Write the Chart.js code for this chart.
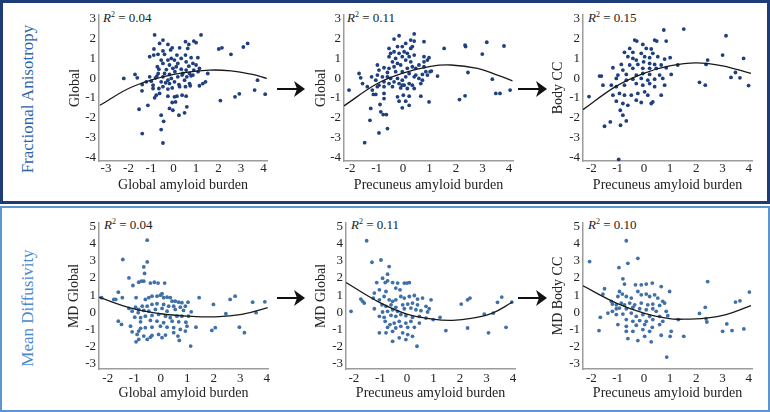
<!DOCTYPE html>
<html><head><meta charset="utf-8">
<script src="https://cdn.jsdelivr.net/npm/chart.js@4.4.1/dist/chart.umd.min.js"></script>
<style>
body{margin:0;background:#fff;width:770px;height:412px;position:relative;overflow:hidden;font-family:"Liberation Serif","Times New Roman",serif}
.box{position:absolute;box-sizing:border-box}
canvas{position:absolute}
.r2{position:absolute;font-size:13px;line-height:16px;color:#222;white-space:nowrap}
.r2 sup{font-size:8px;line-height:0;vertical-align:5px}
.grp{position:absolute;font-size:17px;white-space:nowrap;transform:translate(-50%,-50%) rotate(-90deg)}
svg{position:absolute;left:0;top:0}
</style></head><body>
<div class="box" style="left:0;top:0;width:770px;height:204px;border:3px solid #1d3c78"></div>
<div class="box" style="left:0;top:206px;width:770px;height:206px;border:2px solid #5d95d3"></div>
<div class="grp" style="left:28px;top:99px;color:#2c63ad">Fractional Anisotropy</div>
<div class="grp" style="left:28px;top:308px;color:#4a8bd0">Mean Diffusivity</div>
<svg width="770" height="412">
  <g stroke="#111" stroke-width="2" fill="#111">
    <line x1="277" y1="89" x2="299" y2="89"/><polygon points="294,81 305,89 294,97 297,89" stroke="none"/>
    <line x1="518" y1="89" x2="540" y2="89"/><polygon points="536,81 547,89 536,97 539,89" stroke="none"/>
    <line x1="277" y1="298" x2="299" y2="298"/><polygon points="294,290 305,298 294,306 297,298" stroke="none"/>
    <line x1="518" y1="298" x2="540" y2="298"/><polygon points="536,290 547,298 536,306 539,298" stroke="none"/>
  </g>
</svg>
<div class="r2" style="left:103px;top:10px"><i>R</i><sup>2</sup> = 0.04</div>
<div class="r2" style="left:347px;top:10px"><i>R</i><sup>2</sup> = 0.11</div>
<div class="r2" style="left:588px;top:10px"><i>R</i><sup>2</sup> = 0.15</div>
<div class="r2" style="left:104px;top:217px"><i>R</i><sup>2</sup> = 0.04</div>
<div class="r2" style="left:351px;top:217px"><i>R</i><sup>2</sup> = 0.11</div>
<div class="r2" style="left:588px;top:217px"><i>R</i><sup>2</sup> = 0.10</div>
<script>
// ---- tick values ----
const faYTicks = [3,2,1,0,-1,-2,-3,-4];
const mdYTicks = [5,4,3,2,1,0,-1,-2,-3];
const globalXTicks = [-3,-2,-1,0,1,2,3,4];
const precXTicks = [-2,-1,0,1,2,3,4];
const mdGlobalXTicks = [-2,-1,0,1,2,3,4];

// ---- FA global vs global amyloid ----
const faGlobalPts = [[-0.84,2.19],[1.22,2.19],[-0.47,1.93],[-0.62,1.76],[0.53,1.85],[0.90,1.88],[1.00,1.80],[0.68,1.71],[-0.25,1.71],[-0.87,1.48],[-0.06,1.54],[0.27,1.54],[-0.13,1.43],[0.63,1.51],[-0.47,1.38],[-1.06,1.09],[-0.69,1.21],[-0.40,1.21],[-0.88,1.17],[0.15,1.17],[0.53,1.17],[0.78,1.04],[1.08,1.04],[-0.55,0.92],[-0.25,0.92],[-0.10,1.00],[0.04,0.92],[0.34,1.00],[-0.47,0.75],[-0.18,0.67],[0.19,0.75],[0.56,0.83],[0.86,0.75],[-0.72,0.58],[0.12,0.58],[0.68,0.61],[1.00,0.67],[-0.65,0.46],[-0.32,0.44],[-0.03,0.50],[0.34,0.46],[0.56,0.41],[0.90,0.41],[1.15,0.50],[-0.68,0.24],[-0.40,0.24],[-0.18,0.19],[0.06,0.33],[0.41,0.24],[0.71,0.24],[0.78,0.12],[1.09,0.33],[1.52,0.24],[-2.21,-0.01],[-1.71,0.19],[-1.61,0.02],[-1.06,0.07],[-0.80,0.02],[-0.99,-0.15],[-0.74,0.11],[-0.47,0.07],[-0.25,-0.10],[-0.10,-0.01],[0.19,0.07],[0.38,0.16],[0.59,0.07],[0.86,0.16],[-0.91,-0.35],[-0.55,-0.18],[-0.35,-0.23],[-0.18,-0.27],[0.04,-0.18],[0.24,-0.32],[0.49,-0.10],[0.71,-0.27],[1.15,-0.38],[1.30,-0.27],[1.42,-0.18],[-1.39,-0.32],[-1.21,-0.18],[-0.91,-0.52],[-0.65,-0.52],[-0.47,-0.43],[-0.25,-0.55],[-0.06,-0.49],[0.27,-0.43],[0.53,-0.43],[0.74,-0.38],[-1.40,-0.64],[-0.77,-0.86],[-0.62,-0.77],[-0.25,-0.91],[0.04,-0.94],[0.15,-0.91],[0.38,-0.86],[0.56,-0.91],[-0.84,-0.99],[-0.06,-1.23],[0.09,-1.20],[-1.14,-1.37],[-1.53,-1.57],[-0.18,-1.53],[-0.03,-1.62],[0.59,-1.45],[0.24,-1.87],[0.49,-1.75],[-0.55,-1.87],[-0.44,-2.18],[-1.39,-2.80],[-0.55,-2.60],[-0.47,-3.28],[2.01,1.48],[2.15,1.54],[2.55,1.21],[3.10,1.58],[3.29,1.76],[3.73,-0.10],[3.60,-0.60],[4.07,-0.81],[2.92,-0.79],[2.73,-0.94],[2.08,-1.13]];
const faGlobalFitX = [-3.27,-1.80,0,1.59,2.63,3.51,4.14];
const faGlobalFitY = [-1.37,-0.42,0.19,0.41,0.36,0.19,-0.01];

// ---- FA global vs precuneus amyloid ----
const faPrecPts = [[0.42,2.24],[-0.34,1.98],[-0.15,2.15],[0.29,1.93],[0.42,1.88],[0.79,1.85],[-0.53,1.51],[-0.21,1.60],[-0.03,1.60],[0.10,1.76],[0.29,1.51],[0.35,1.60],[-0.47,1.26],[-0.34,1.34],[-0.15,1.26],[0.04,1.34],[0.16,1.26],[-0.53,1.09],[-0.28,1.00],[-0.03,1.09],[0.23,1.09],[0.42,1.17],[0.79,1.09],[0.98,1.04],[-0.40,0.83],[-0.21,0.75],[0.10,0.92],[0.29,0.83],[0.79,0.83],[0.92,0.92],[-0.97,0.67],[-0.72,0.53],[-0.53,0.50],[-0.34,0.58],[-0.09,0.67],[0.16,0.50],[0.35,0.58],[0.48,0.50],[0.60,0.67],[0.79,0.58],[0.86,0.33],[1.02,0.33],[-0.91,0.41],[-0.59,0.29],[-0.28,0.33],[-0.03,0.33],[0.23,0.24],[0.48,0.16],[0.73,0.19],[1.07,0.36],[-1.66,0.24],[-1.60,0.02],[-1.19,0.07],[-0.97,0.16],[-0.78,0.07],[-0.59,0.07],[-0.47,-0.01],[-0.21,-0.01],[-0.03,-0.10],[0.10,0.07],[0.42,0.07],[0.60,-0.01],[0.92,0.16],[1.30,0.11],[-1.53,-0.27],[-1.03,-0.10],[-0.91,-0.35],[-0.72,-0.18],[-0.53,-0.27],[-0.34,-0.18],[-0.15,-0.27],[-0.03,-0.35],[0.23,-0.27],[0.35,-0.35],[0.67,-0.27],[0.73,-0.10],[-2.04,-0.60],[-1.35,-0.43],[-1.16,-0.60],[-0.97,-0.43],[-0.72,-0.43],[-0.40,-0.43],[-0.09,-0.49],[0.04,-0.35],[0.16,-0.52],[0.42,-0.52],[-1.12,-0.82],[-1.03,-0.82],[-0.72,-0.77],[-0.21,-0.94],[0.01,-0.86],[0.23,-0.91],[0.67,-0.91],[-0.72,-1.03],[0.10,-1.16],[-0.15,-1.16],[-0.03,-1.50],[0.23,-1.37],[0.98,-1.20],[-1.22,-1.53],[-0.87,-1.33],[-0.84,-1.70],[-0.75,-1.84],[-0.63,-1.84],[-1.25,-2.13],[-0.59,-2.55],[-0.91,-2.77],[-1.45,-3.26],[1.55,1.51],[2.34,1.68],[2.36,1.60],[3.16,1.82],[3.81,1.63],[2.99,1.22],[2.45,0.29],[3.37,-0.05],[4.04,-0.60],[3.50,-0.77],[3.66,-0.77],[2.34,-0.89],[2.13,-1.08]];
const faPrecFitX = [-2.23,-0.97,0,1.04,1.80,2.81,3.56,4.13];
const faPrecFitY = [-1.40,-0.27,0.26,0.60,0.67,0.50,0.16,-0.13];

// ---- FA body CC vs precuneus amyloid ----
const faBodyPts = [[0.76,2.44],[1.52,2.49],[3.13,2.15],[-0.35,1.93],[-0.27,1.88],[-0.04,1.71],[0.41,1.93],[0.49,1.88],[0.85,1.88],[-0.54,1.51],[0.09,1.51],[0.28,1.48],[-0.74,1.31],[-0.42,1.31],[-0.10,1.26],[0.34,1.26],[-0.61,1.09],[-0.42,1.00],[-0.29,0.92],[0.03,1.09],[0.22,1.04],[0.53,1.09],[0.79,0.97],[1.00,1.04],[-0.86,0.70],[-0.54,0.67],[-0.23,0.70],[-0.01,0.83],[0.22,0.75],[0.41,0.70],[0.66,0.67],[-1.18,0.53],[-0.80,0.41],[-0.42,0.50],[-0.04,0.50],[0.22,0.50],[0.47,0.50],[0.85,0.53],[1.29,0.67],[2.37,0.70],[2.43,0.92],[3.00,1.17],[3.80,1.00],[-1.69,0.11],[-1.62,0.11],[-0.99,0.16],[-0.67,0.19],[-0.29,0.16],[-0.04,0.24],[0.22,0.19],[0.60,0.16],[1.04,0.19],[-1.56,-0.35],[-1.24,-0.35],[-1.05,-0.01],[-0.67,-0.10],[-0.42,-0.05],[-0.10,-0.01],[0.15,-0.10],[0.41,-0.05],[0.72,-0.01],[-2.09,-0.93],[-1.05,-0.43],[-0.74,-0.35],[-0.29,-0.27],[-0.04,-0.35],[0.22,-0.27],[0.41,-0.43],[0.79,-0.35],[2.12,-0.21],[2.34,-0.35],[3.32,0.04],[3.49,0.29],[3.66,0.02],[3.99,-0.37],[-1.18,-0.86],[-0.93,-0.77],[-0.74,-0.86],[-0.48,-0.86],[-0.23,-0.77],[0.03,-0.69],[0.15,-0.86],[0.66,-0.86],[-1.05,-1.16],[-0.80,-1.28],[-0.61,-1.37],[-0.29,-1.11],[-0.10,-1.23],[0.28,-1.28],[0.34,-1.20],[-0.90,-1.62],[-0.80,-1.87],[-0.67,-2.16],[-1.28,-2.21],[-1.50,-2.43],[-0.89,-2.38],[-0.96,-4.11]];
const faBodyFitX = [-2.32,-1.05,0,0.98,1.99,3.00,4.08];
const faBodyFitY = [-1.59,-0.40,0.25,0.62,0.78,0.63,0.24];

// ---- MD global vs global amyloid ----
const mdGlobalPts = [[-0.51,4.19],[-1.43,3.07],[-0.51,2.93],[-0.64,2.64],[-0.61,2.26],[-1.20,2.00],[-0.64,1.81],[-1.05,1.56],[-0.83,1.75],[-0.73,1.81],[-0.39,1.70],[-0.24,1.75],[-0.10,1.70],[0.15,1.70],[-1.60,1.17],[-1.77,0.75],[-1.70,0.75],[-1.45,0.85],[-2.23,0.85],[-0.93,0.85],[-0.58,0.75],[-0.45,0.85],[-0.33,0.94],[-0.14,0.94],[-0.01,1.00],[0.11,0.85],[0.24,0.88],[0.36,0.85],[0.05,1.08],[0.43,0.65],[0.55,0.65],[0.68,0.59],[0.80,0.56],[1.45,0.85],[1.99,0.46],[2.62,0.75],[2.81,0.94],[3.47,0.59],[3.93,0.61],[-1.20,0.23],[-0.95,0.30],[-0.83,0.17],[-0.70,0.36],[-0.51,0.36],[-0.33,0.46],[-0.14,0.50],[0.11,0.46],[0.30,0.36],[0.49,0.36],[0.74,0.30],[0.93,0.36],[1.03,0.59],[-1.08,0.07],[-0.85,-0.02],[-0.64,0.11],[-0.45,0.07],[-0.20,0.17],[0.05,0.23],[0.24,0.07],[0.55,0.17],[0.86,0.11],[1.15,0.03],[2.46,-0.08],[3.60,-0.02],[-0.98,-0.28],[-0.76,-0.31],[-0.58,-0.22],[-0.33,-0.18],[-0.08,-0.12],[0.18,-0.22],[0.36,-0.31],[0.61,-0.22],[0.80,-0.22],[1.05,-0.22],[-1.60,-0.51],[-1.48,-0.70],[-1.14,-0.80],[-0.76,-0.55],[-0.39,-0.47],[-0.14,-0.51],[0.11,-0.60],[0.43,-0.51],[0.68,-0.55],[0.95,-0.57],[1.33,-0.86],[2.06,-0.89],[1.93,-1.05],[2.97,-0.86],[-1.08,-1.13],[-0.83,-1.09],[-0.58,-0.89],[-0.33,-0.86],[-0.01,-0.80],[0.24,-0.86],[0.49,-0.89],[0.74,-0.99],[-0.89,-1.28],[-0.64,-1.38],[-0.39,-1.44],[-0.08,-1.28],[0.18,-1.32],[0.49,-1.18],[0.65,-1.38],[0.93,-1.09],[3.16,-1.18],[-0.83,-1.57],[-0.51,-1.57],[-0.33,-1.34],[0.05,-1.47],[0.70,-1.63],[-0.93,-1.71],[1.13,-1.96],[-0.76,-0.93],[0.99,-0.80]];
const mdGlobalFitX = [-2.33,-1.08,0,1.05,2.06,3.06,4.04];
const mdGlobalFitY = [0.88,0.23,-0.08,-0.22,-0.26,-0.12,0.27];

// ---- MD global vs precuneus amyloid ----
const mdPrecPts = [[-1.52,4.16],[-1.32,2.91],[-0.98,3.04],[-0.67,2.66],[-0.73,2.22],[-0.92,1.98],[-1.14,1.73],[-0.82,1.73],[-0.73,1.83],[-0.54,1.73],[-0.35,1.70],[-0.10,1.70],[0.00,1.70],[0.09,1.73],[-1.04,1.31],[-1.23,1.12],[-0.79,1.21],[-0.42,1.41],[-0.26,1.31],[-1.74,0.77],[-1.67,0.64],[-1.27,0.83],[-1.04,0.73],[-0.86,0.92],[-0.67,0.73],[-0.54,0.64],[-0.42,0.73],[-0.23,0.92],[-0.10,0.83],[0.09,0.92],[0.28,0.98],[0.40,0.77],[0.59,0.83],[0.91,0.73],[2.29,0.73],[2.38,0.83],[2.05,0.48],[3.42,0.58],[3.58,0.89],[3.96,0.60],[-2.11,0.06],[-1.61,0.54],[-1.23,0.21],[-0.94,0.44],[-0.79,0.35],[-0.60,0.44],[-0.42,0.29],[-0.16,0.44],[0.03,0.48],[0.21,0.54],[0.40,0.44],[0.72,0.35],[0.84,0.21],[-0.92,0.02],[-0.73,0.06],[-0.54,0.15],[-0.35,0.06],[-0.10,0.21],[0.15,0.25],[0.34,0.15],[0.53,0.10],[0.78,0.02],[1.25,-0.29],[2.92,-0.10],[3.26,-0.04],[-1.04,-0.23],[-0.86,-0.29],[-0.60,-0.17],[-0.42,-0.23],[-0.23,-0.13],[-0.04,-0.19],[0.21,-0.29],[0.47,-0.23],[0.72,-0.33],[0.99,-0.42],[-0.82,-0.52],[-0.64,-0.71],[-0.48,-0.62],[-0.29,-0.52],[-0.04,-0.62],[0.15,-0.52],[0.47,-0.62],[-0.73,-0.87],[-0.42,-0.91],[-0.23,-0.81],[0.03,-0.87],[0.28,-0.87],[1.47,-1.06],[2.29,-0.91],[3.74,-0.87],[-1.04,-1.19],[-0.54,-1.10],[-0.16,-1.19],[0.03,-1.29],[0.21,-1.39],[-0.79,-1.19],[-0.29,-1.48],[-0.04,-1.58],[-0.54,-1.68],[0.38,-1.97],[3.08,-1.19]];
const mdPrecFitX = [-2.30,-1.04,0,0.97,1.72,2.48,3.23,3.99];
const mdPrecFitY = [1.73,0.58,-0.10,-0.39,-0.46,-0.33,-0.04,0.60];

// ---- MD body CC vs precuneus amyloid ----
const mdBodyPts = [[-0.67,4.16],[-2.07,2.95],[-0.23,3.14],[-0.61,2.85],[-0.95,2.60],[-0.80,1.95],[-0.74,1.64],[-0.32,1.60],[-0.10,1.60],[0.09,1.64],[0.32,1.70],[0.66,1.50],[0.98,1.21],[2.43,1.79],[4.02,1.18],[-1.50,1.37],[-1.56,1.06],[-0.93,1.21],[-0.82,1.06],[-0.99,0.92],[-0.67,0.92],[-0.48,0.83],[-0.23,1.21],[-0.10,1.02],[0.09,1.06],[0.22,0.92],[0.41,1.02],[0.53,0.83],[0.72,0.64],[-1.24,0.64],[-1.20,0.48],[-1.05,0.44],[-0.86,0.54],[-0.74,0.44],[-0.54,0.54],[-0.35,0.44],[-0.10,0.54],[0.15,0.44],[0.34,0.48],[0.60,0.40],[0.79,0.54],[3.49,0.60],[3.66,0.67],[-1.20,0.06],[-1.05,0.21],[-0.93,0.25],[-0.67,0.21],[-0.42,0.29],[-0.16,0.21],[0.09,0.15],[0.34,0.21],[0.47,0.06],[0.85,0.06],[2.12,-0.06],[2.34,0.29],[-1.37,-0.04],[-1.05,-0.13],[-0.80,-0.10],[-0.48,-0.04],[-0.29,-0.23],[-0.04,-0.13],[0.22,-0.23],[0.60,-0.23],[0.91,-0.19],[1.31,-0.42],[-1.66,-0.29],[2.37,-0.37],[2.40,-0.56],[-0.67,-0.42],[-0.42,-0.52],[-0.16,-0.48],[0.09,-0.52],[0.34,-0.42],[0.72,-0.52],[-0.99,-0.71],[-0.67,-0.81],[-0.29,-0.75],[0.03,-0.71],[0.32,-0.87],[0.60,-0.71],[1.04,-1.10],[3.16,-0.67],[-1.71,-1.06],[3.00,-1.10],[3.36,-1.06],[3.81,-0.96],[-0.67,-1.10],[-0.42,-1.10],[-0.04,-1.00],[0.22,-1.10],[-0.61,-1.52],[-0.23,-1.64],[0.28,-1.71],[0.03,-1.39],[0.66,-1.33],[1.00,-1.39],[1.52,-1.39],[0.87,-2.60]];
const mdBodyFitX = [-2.32,-1.05,0,0.98,1.36,2.37,3.13,4.08];
const mdBodyFitY = [1.54,0.54,-0.04,-0.37,-0.40,-0.33,-0.13,0.39];

const FONT = "'Liberation Serif','Times New Roman',serif";
const TOP_COLOR = '#1f3f7e';
const BOT_COLOR = '#3f70a8';

function panel(c) {
  const cv = document.createElement('canvas');
  const w = c.right - c.left, h = c.bottom - c.top;
  cv.width = w; cv.height = h;
  cv.style.left = c.left + 'px'; cv.style.top = c.top + 'px';
  cv.style.width = w + 'px'; cv.style.height = h + 'px';
  document.body.appendChild(cv);
  const yW = c.areaLeft - c.left, xH = c.bottom - c.areaBottom;
  new Chart(cv, {
    type: 'scatter',
    data: { datasets: [
      { data: c.fitX.map((x, i) => ({x: x, y: c.fitY[i]})), showLine: true, borderColor: '#1a1a1a', borderWidth: 1.3,
        pointRadius: 0, tension: 0.4, fill: false },
      { data: c.pts.map(p => ({x: p[0], y: p[1]})), pointRadius: 1.9, backgroundColor: c.color,
        pointBackgroundColor: c.color, pointBorderWidth: 0, borderWidth: 0, clip: false }
    ]},
    options: {
      responsive: false, animation: false, devicePixelRatio: 1,
      layout: { padding: { left: 0, top: c.areaTop - c.top, right: c.right - c.areaRight, bottom: 0 } },
      plugins: { legend: { display: false }, tooltip: { enabled: false } },
      scales: {
        x: { type: 'linear', min: c.xMin, max: c.xMax,
          grid: { display: false, drawTicks: false },
          border: { display: true, color: '#9c9c9c', width: 1.5 },
          ticks: { font: { family: FONT, size: 13 }, color: '#222', padding: c.xPad, autoSkip: false, maxRotation: 0,
                   callback: v => String(v) },
          afterBuildTicks: s => { s.ticks = c.xTicks.map(v => ({value: v})); },
          afterFit: s => { s.height = xH; s.paddingLeft = 0; s.paddingRight = 0; },
          title: { display: true, text: c.xTitle, font: { family: FONT, size: 14 }, color: '#222', padding: 0 } },
        y: { type: 'linear', min: c.yMin, max: c.yMax,
          grid: { display: false, drawTicks: false },
          border: { display: true, color: '#9c9c9c', width: 1.5 },
          ticks: { font: { family: FONT, size: 13 }, color: '#222', padding: 3, autoSkip: false,
                   callback: v => String(v) },
          afterBuildTicks: s => { s.ticks = c.yTicks.map(v => ({value: v})); },
          afterFit: s => { s.width = yW; s.paddingTop = 0; s.paddingBottom = 0; },
          title: { display: true, text: c.yTitle, font: { family: FONT, size: 14 }, color: '#222', padding: 0 } }
      }
    }
  });
}

const topRow = { top: 10, bottom: 194, areaTop: 15, areaBottom: 161, yMin: -4.19, yMax: 3.2, yTicks: faYTicks, color: TOP_COLOR, xPad: 0 };
const botRow = { top: 216, bottom: 402, areaTop: 223, areaBottom: 369, yMin: -3.29, yMax: 5.19, yTicks: mdYTicks, color: BOT_COLOR, xPad: 2 };

panel(Object.assign({}, topRow, { left: 67, right: 274, areaLeft: 99, areaRight: 267, xMin: -3.31, xMax: 4.15, xTicks: globalXTicks,
  pts: faGlobalPts, fitX: faGlobalFitX, fitY: faGlobalFitY, xTitle: 'Global amyloid burden', yTitle: 'Global' }));
panel(Object.assign({}, topRow, { left: 313, right: 520, areaLeft: 344, areaRight: 513, xMin: -2.23, xMax: 4.15, xTicks: precXTicks,
  pts: faPrecPts, fitX: faPrecFitX, fitY: faPrecFitY, xTitle: 'Precuneus amyloid burden', yTitle: 'Global' }));
panel(Object.assign({}, topRow, { left: 550, right: 762, areaLeft: 583, areaRight: 752, xMin: -2.32, xMax: 4.12, xTicks: precXTicks,
  pts: faBodyPts, fitX: faBodyFitX, fitY: faBodyFitY, xTitle: 'Precuneus amyloid burden', yTitle: 'Body CC' }));
panel(Object.assign({}, botRow, { left: 66, right: 275, areaLeft: 99, areaRight: 268, xMin: -2.33, xMax: 4.05, xTicks: mdGlobalXTicks,
  pts: mdGlobalPts, fitX: mdGlobalFitX, fitY: mdGlobalFitY, xTitle: 'Global amyloid burden', yTitle: 'MD Global' }));
panel(Object.assign({}, botRow, { left: 313, right: 522, areaLeft: 346, areaRight: 515, xMin: -2.30, xMax: 4.08, xTicks: precXTicks,
  pts: mdPrecPts, fitX: mdPrecFitX, fitY: mdPrecFitY, xTitle: 'Precuneus amyloid burden', yTitle: 'MD Global' }));
panel(Object.assign({}, botRow, { left: 550, right: 762, areaLeft: 583, areaRight: 752, xMin: -2.32, xMax: 4.12, xTicks: precXTicks,
  pts: mdBodyPts, fitX: mdBodyFitX, fitY: mdBodyFitY, xTitle: 'Precuneus amyloid burden', yTitle: 'MD Body CC' }));
</script>
</body></html>
